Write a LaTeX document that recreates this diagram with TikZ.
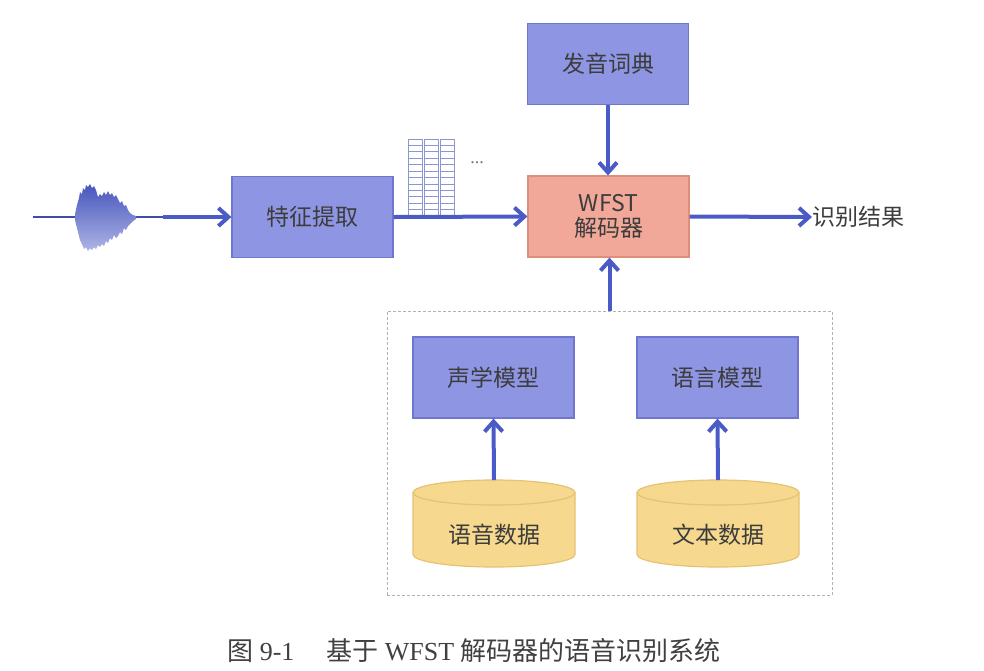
\documentclass[tikz,border=0pt]{standalone}
\usepackage{fontspec}
\setmainfont{Liberation Serif}
\newfontfamily\cjk{Noto Sans CJK SC}
\usetikzlibrary{arrows.meta}
\definecolor{boxblue}{HTML}{8E96E4}
\definecolor{boxedge}{HTML}{6E76CE}
\definecolor{wfill}{HTML}{F2A898}
\definecolor{wedge}{HTML}{E08E7C}
\definecolor{cylfill}{HTML}{F6D88F}
\definecolor{cyledge}{HTML}{E6C272}
\definecolor{arrowblue}{HTML}{4A5AC6}
\definecolor{txt}{HTML}{3C3C3C}
\definecolor{gridc}{HTML}{8A97D0}
\begin{document}
\begin{tikzpicture}[x=0.5pt,y=-0.5pt,
  bbox/.style={draw=boxedge, fill=boxblue, line width=0.6pt, minimum width=80.5pt, minimum height=40.5pt, inner sep=0pt, font=\cjk\fontsize{11.5}{12.5}\selectfont, text=txt},
  wbox/.style={bbox, draw=wedge, fill=wfill, align=center},
  arr/.style={draw=arrowblue, line width=2pt, -{Straight Barb[length=5pt,width=9pt]}},
  grp/.style={draw=black!30, dashed, dash pattern=on 1.5pt off 1pt, line width=0.5pt, minimum width=222.5pt, minimum height=142pt, inner sep=0pt},
  lbl/.style={font=\cjk\fontsize{11.5}{12.5}\selectfont, text=txt, inner sep=0pt},
  cyl/.style={fill=cylfill, draw=cyledge, line width=0.6pt}
]
\useasboundingbox (0,0) rectangle (984,670);

% boxes
\node[bbox] (dict) at (608,64) {发音词典};
\node[wbox] (wfst) at (608.5,216.5) {WFST\\解码器};
\node[bbox] (feat) at (312.5,217) {特征提取};
\node[lbl, anchor=west] (res) at (812,217) {识别结果};
\node[grp] (grp) at (609.5,453) {};
\node[bbox] (am) at (493.5,377.5) {声学模型};
\node[bbox] (lm) at (717.5,377.5) {语言模型};

% cylinders
\foreach \cx/\nm/\tx in {494/d1/语音数据, 718/d2/文本数据}{
  \path[cyl] (\cx-81,492.5) -- (\cx-81,554.5) arc[start angle=180, end angle=0, x radius=81, y radius=12.5] -- (\cx+81,492.5) -- cycle;
  \path[cyl] (\cx,492.5) ellipse [x radius=81, y radius=12.5];
  \node[lbl] (\nm) at (\cx,535) {\tx};
  \coordinate (\nm top) at (\cx,480);
}

% waveform
\coordinate (w0) at (33,217);
\coordinate (w1) at (163,217);
\draw[arrowblue!85!black, line width=0.7pt] (w0) -- (w1);
\shade[top color=arrowblue!95!black, bottom color=arrowblue!45] (75,214) -- (77,205) -- (79,198) -- (80,192) -- (82,194) -- (83,188) -- (85,190) -- (86,185) -- (88,187) -- (90,184) -- (92,188) -- (94,186) -- (96,190) -- (98,197) -- (100,194) -- (102,196) -- (104,192) -- (106,195) -- (108,191) -- (110,195) -- (112,193) -- (114,197) -- (116,195) -- (118,199) -- (120,203) -- (122,201) -- (124,206) -- (126,205) -- (128,210) -- (130,213) -- (133,215) -- (136,216)
  -- (136,219) -- (133,221) -- (130,224) -- (128,226) -- (126,230) -- (124,228) -- (122,234) -- (120,232) -- (118,236) -- (116,238) -- (114,235) -- (112,240) -- (110,238) -- (108,243) -- (106,241) -- (104,246) -- (102,244) -- (100,247) -- (98,245) -- (96,249) -- (94,247) -- (92,250) -- (90,248) -- (88,251) -- (86,247) -- (84,249) -- (82,244) -- (80,240) -- (78,232) -- (76,224) -- (75,220) -- cycle;

% feature grid
\foreach \c in {408,424,440}{
  \draw[gridc, line width=0.4pt] (\c,139) rectangle (\c+14,216);
  \foreach \r in {1,...,11}{
    \draw[gridc, line width=0.4pt] (\c,139+\r*6.417) -- (\c+14,139+\r*6.417);
  }
}
\node[font=\fontsize{9}{9}\selectfont, text=black!55, inner sep=0pt] (dots) at (477,163) {...};

% connectors
\draw[arr] (w1) -- (feat.west);
\draw[arr] (feat.east) -- (wfst.west);
\draw[arr] (wfst.east) -- (res.west);
\draw[arr] (dict.south) -- (dict.south |- wfst.north);
\draw[arr] (grp.north) -- (grp.north |- wfst.south);
\draw[arr] (d1top) -- (am.south);
\draw[arr] (d2top) -- (lm.south);

% caption
\node[font=\fontsize{13}{15}\selectfont, text=black!75, inner sep=0pt] (cap) at (474,651) {{\cjk 图} 9-1\hspace{16pt}{\cjk 基于} WFST {\cjk 解码器的语音识别系统}};
\end{tikzpicture}
\end{document}
